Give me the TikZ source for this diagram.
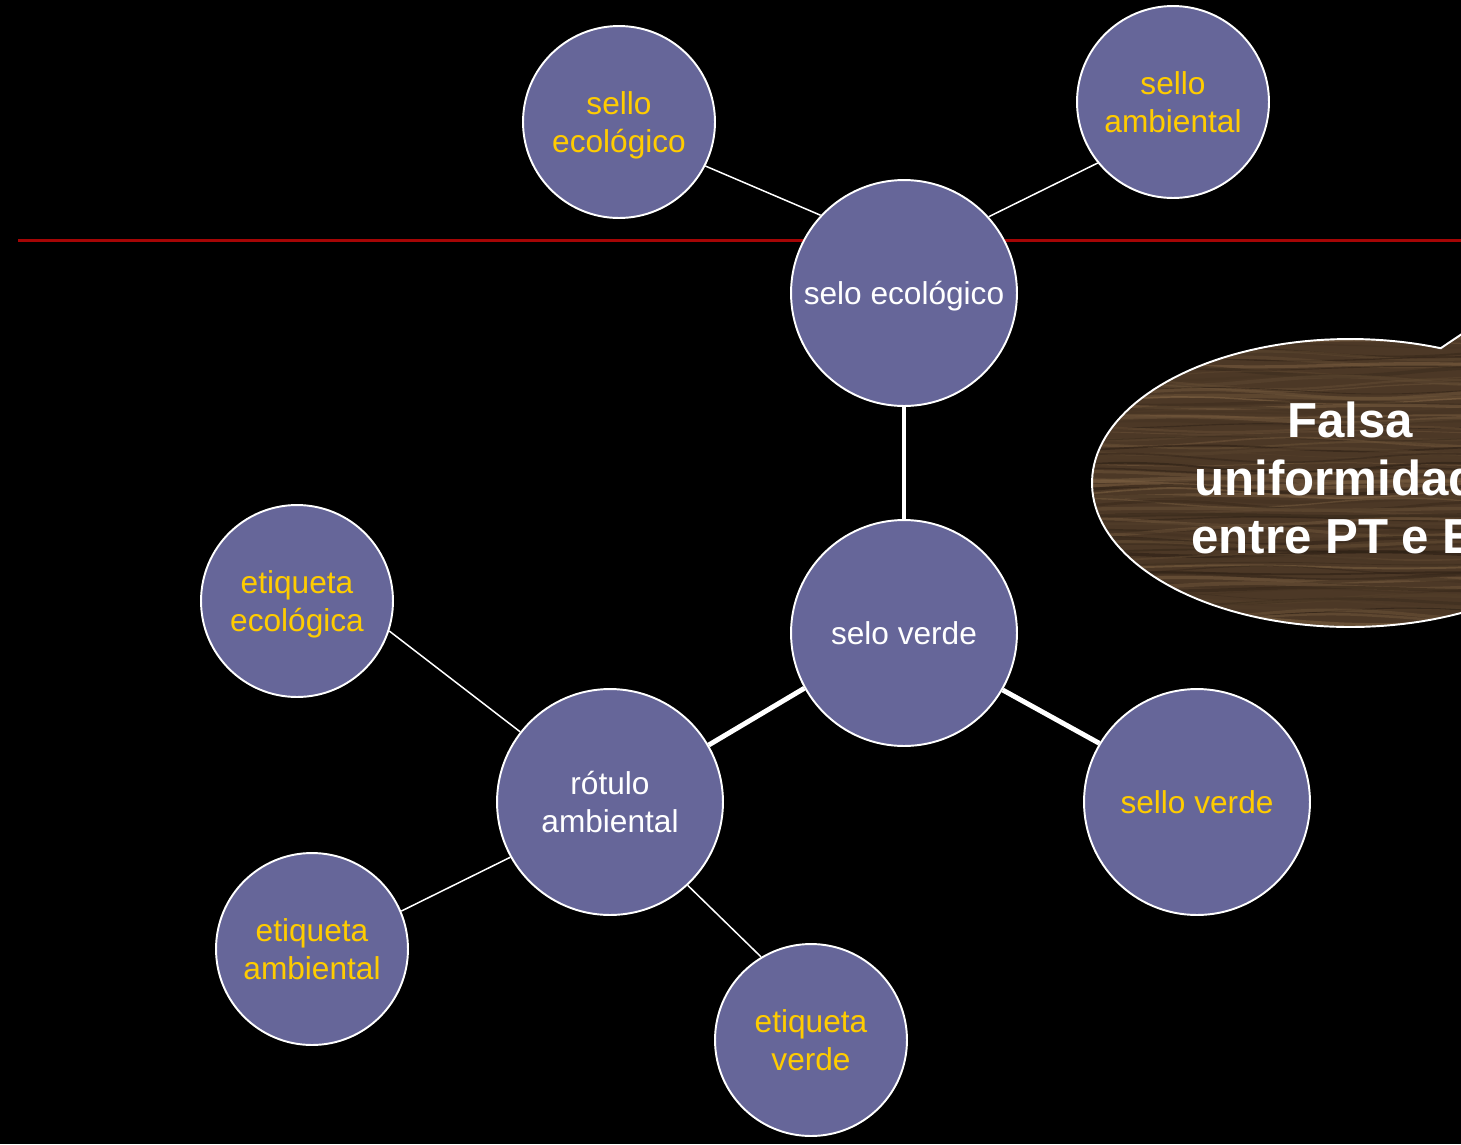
\documentclass[tikz,border=0pt]{standalone}
\usepackage{fontspec}
\setmainfont{Liberation Sans}
\definecolor{bubble}{RGB}{102,102,153}
\definecolor{goldtxt}{RGB}{255,204,0}
\definecolor{redline}{RGB}{165,5,5}
\definecolor{woodbase}{RGB}{76,56,38}
\definecolor{woodlight}{RGB}{132,102,70}
\definecolor{wooddark}{RGB}{40,28,18}
\tikzset{
  big/.style={circle, draw=white, line width=1.1pt, fill=bubble, minimum size=4.52cm, inner sep=0pt, align=center, text depth=0pt, text=white, font=\fontsize{18}{22}\selectfont},
  small/.style={circle, draw=white, line width=1.1pt, fill=bubble, minimum size=3.84cm, inner sep=0pt, align=center, text depth=0pt, text=goldtxt, font=\fontsize{18}{21.5}\selectfont},
  bigsmall/.style={big, text=goldtxt},
  thinlink/.style={draw=white, line width=0.85pt},
  thicklink/.style={draw=white, line width=2.8pt},
}
\begin{document}
\begin{tikzpicture}[x=0.02cm, y=-0.02cm]
\useasboundingbox (0,0) rectangle (1461,1144);
\fill[black] (0,0) rectangle (1461,1144);
\clip (0,0) rectangle (1461,1144);

% red rule
\draw[redline, line width=1.7pt] (18,240) -- (1461,240);

% nodes
\node[big] (eco) at (904,293) {selo ecológico};
\node[big] (verde) at (904,633) {selo verde};
\node[big] (rotulo) at (610,802) {rótulo\\ ambiental};
\node[bigsmall] (sverde) at (1197,802) {sello verde};
\node[small] (seco) at (619,122) {sello\\ ecológico};
\node[small] (samb) at (1173,102) {sello\\ ambiental};
\node[small] (eteco) at (297,601) {etiqueta\\ ecológica};
\node[small] (etamb) at (312,949) {etiqueta\\ ambiental};
\node[small] (etverde) at (811,1040) {etiqueta\\ verde};

% connectors
\draw[thinlink] (seco.-27.6) -- (eco.137.9);
\draw[thinlink] (samb.219.5) -- (eco.42.1);
\draw[thicklink] (eco.south) -- (verde.north);
\draw[thicklink] (verde.209.7) -- (rotulo.30.2);
\draw[thicklink] (verde.-30.2) -- (sverde.149.6);
\draw[thinlink] (eteco.-18.8) -- (rotulo.142.8);
\draw[thinlink] (etamb.23.4) -- (rotulo.209);
\draw[thinlink] (etverde.121.9) -- (rotulo.-47.5);

% callout with wood look
\def\calloutpath{(1520,295) -- (1441,348) -- plot[domain=69.35:330, samples=120] ({1350+258*cos(\x)},{483-144*sin(\x)}) -- (1560,600) -- cycle}
\fill[woodbase] \calloutpath;
\begin{scope}
  \clip \calloutpath;
  \pgfmathsetseed{7}
  \foreach \i in {0,...,95}{
    \pgfmathsetmacro{\yy}{330+\i*3.2}
    \pgfmathtruncatemacro{\mixv}{random(0,100)}
    \pgfmathsetmacro{\lw}{0.4+1.8*rnd}
    \pgfmathsetmacro{\ph}{360*rnd}
    \pgfmathsetmacro{\amp}{1+4*rnd}
    \draw[color=woodlight!\mixv!wooddark, line width=\lw pt, opacity=0.55]
      plot[smooth, domain=1080:1480, samples=10] (\x, {\yy + \amp*sin(\x*1.1 + \ph)});
  }
\end{scope}
\draw[white, line width=1.1pt, line join=round] \calloutpath;
\node[text=white, align=center, font=\fontsize{28}{33}\bfseries\selectfont] (falsa) at (1350,478) {Falsa\\ uniformidade\\ entre PT e ES};
\end{tikzpicture}
\end{document}
